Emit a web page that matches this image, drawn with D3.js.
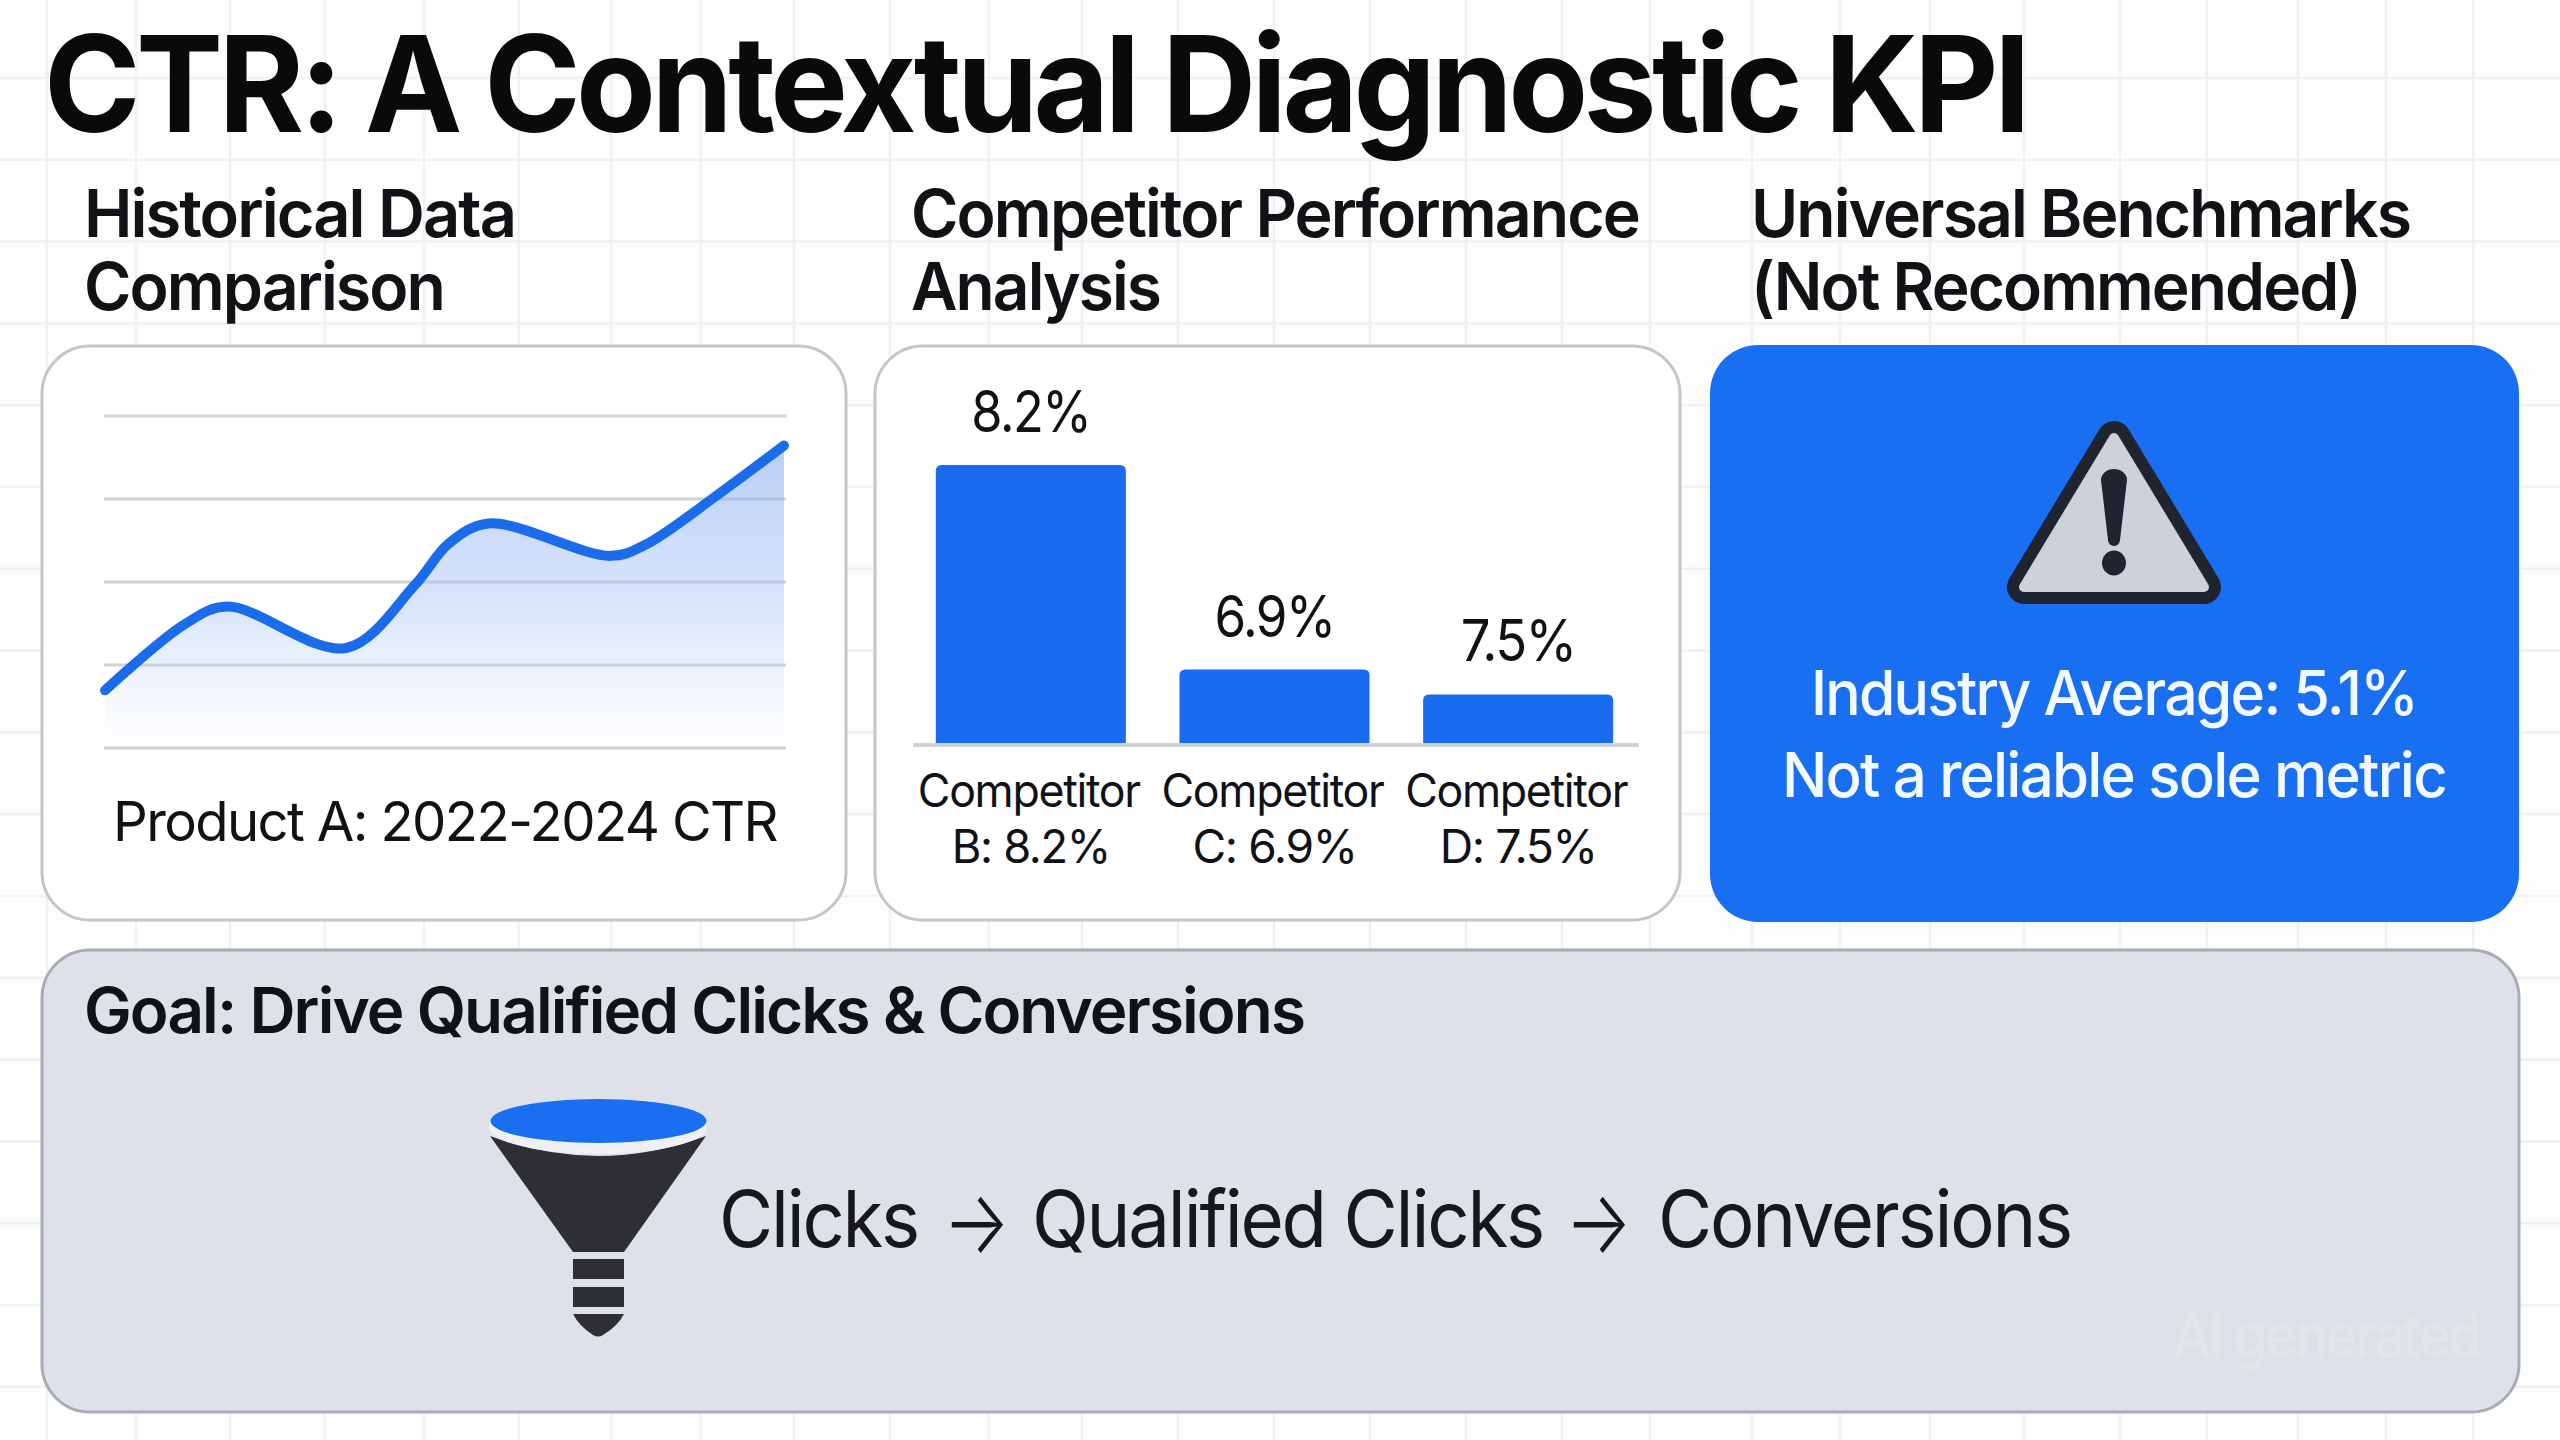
<!DOCTYPE html>
<html><head><meta charset="utf-8">
<script src="https://cdn.jsdelivr.net/npm/d3@7"></script>
<style>html,body{margin:0;padding:0;background:#fff}svg{display:block}text{font-family:Inter,"Noto Sans",sans-serif}</style>
</head><body><svg id="c" width="2560" height="1440"></svg>
<script>
// Data
const titleText = "CTR: A Contextual Diagnostic KPI";
const lineX = [2022,2022.236,2022.36,2022.71,2022.913,2023.013,2023.13,2023.49,2023.59,2023.806,2024];
const lineY = [0.69,1.49,1.70,1.20,1.96,2.46,2.70,2.31,2.44,3.05,3.64];
const gridTicks = [0,1,2,3,4];
const barCategories = ["B","C","D"];
const barLabels = ["8.2%","6.9%","7.5%"];
const barHeights = [8.2,2.2,1.47]; // bar lengths as drawn in the picture
const catLine1 = ["Competitor","Competitor","Competitor"];
const catLine2 = ["B: 8.2%","C: 6.9%","D: 7.5%"];
const bgX = [47,136,230,325,424,519,611,701,794,890,989,1082,1178,1274,1370,1466,1562,1650,1752,1840,1930,2024,2120,2207,2298,2386,2473];
const bgY = d3.range(0,17).map(i=>78+81.8*i);

const svg = d3.select("#c");
const defs = svg.append("defs");
const g = defs.append("linearGradient").attr("id","area").attr("x1",0).attr("x2",0).attr("y1",0).attr("y2",1);
g.append("stop").attr("offset","0").attr("stop-color","#7fa6f0").attr("stop-opacity",0.55);
g.append("stop").attr("offset","0.55").attr("stop-color","#a8c3f5").attr("stop-opacity",0.42);
g.append("stop").attr("offset","1").attr("stop-color","#c9daf9").attr("stop-opacity",0.02);

function txt(parent,s,x,y,size,weight,fill,anchor,len,ls){
  const t = parent.append("text").attr("x",x).attr("y",y).attr("font-size",size)
    .attr("font-weight",weight).attr("fill",fill).attr("text-anchor",anchor||"start")
    .attr("letter-spacing",(ls===undefined?-0.03:ls)*size).text(s);
  if(len) t.attr("textLength",len).attr("lengthAdjust","spacingAndGlyphs");
  return t;
}

// background grid
svg.append("rect").attr("width",2560).attr("height",1440).attr("fill","#fdfdfe");
svg.selectAll(".bgx").data(bgX).join("line").attr("x1",d=>d).attr("x2",d=>d).attr("y1",0).attr("y2",1440).attr("stroke","#f0f1f4").attr("stroke-width",2.5);
svg.selectAll(".bgy").data(bgY).join("line").attr("y1",d=>d).attr("y2",d=>d).attr("x1",0).attr("x2",2560).attr("stroke","#f0f1f4").attr("stroke-width",2.5);

// titles
txt(svg,titleText,44,132,134,750,"#0a0a0c","start",1982,-0.035);
const INK="#111216";
txt(svg,"Historical Data",84,237,66,600,INK,"start",431);
txt(svg,"Comparison",84,310,66,600,INK,"start",360);
txt(svg,"Competitor Performance",911,237,66,600,INK,"start",728);
txt(svg,"Analysis",911,310,66,600,INK,"start",249);
txt(svg,"Universal Benchmarks",1751,237,66,600,INK,"start",659);
txt(svg,"(Not Recommended)",1751,310,66,600,INK,"start",609);

// cards
const card=(x,y,w,h,fill,stroke)=>svg.append("rect").attr("x",x).attr("y",y).attr("width",w).attr("height",h).attr("rx",48).attr("fill",fill).attr("stroke",stroke||"none").attr("stroke-width",3);
card(42,346,804,574,"#ffffff","#c3c6cb");
card(875,346,805,574,"#ffffff","#c3c6cb");
card(1710,345,809,577,"#196ff2");
card(42,950,2477,462,"#dee1e7","#a8adb5");

// line chart
const x = d3.scaleLinear().domain([2022,2024]).range([105,784]);
const y = d3.scaleLinear().domain([0,4]).range([747.6,415.6]);
const grid = d3.axisLeft(y).tickValues(gridTicks).tickSize(-682).tickFormat("");
const gg = svg.append("g").attr("transform","translate(104,0)").call(grid);
gg.select(".domain").remove();
gg.selectAll(".tick line").attr("stroke","#cfd2d7").attr("stroke-width",3);
const pts = lineX.map((d,i)=>[d,lineY[i]]);
const curve = d3.curveCatmullRom.alpha(0.5);
svg.append("path").datum(pts).attr("fill","url(#area)").attr("d",d3.area().x(d=>x(d[0])).y0(y(0)).y1(d=>y(d[1])).curve(curve));
svg.append("path").datum(pts).attr("fill","none").attr("stroke","#1a6ceb").attr("stroke-width",10).attr("stroke-linecap","round").attr("d",d3.line().x(d=>x(d[0])).y(d=>y(d[1])).curve(curve));
txt(svg,"Product A: 2022-2024 CTR",445,841,55,400,INK,"middle",664);

// bars
const bx = d3.scaleBand().domain(barCategories).range([909,1640]).paddingInner(0.22).paddingOuter(0.11);
const by = d3.scaleLinear().domain([0,8.2]).range([744.6,465]);
svg.selectAll(".bar").data(barCategories).join("path").attr("fill","#196bf0").attr("d",(c,i)=>{
  const x0=bx(c),w=bx.bandwidth(),t=by(barHeights[i]),b=by(0),r=6;
  return `M${x0},${b}V${t+r}Q${x0},${t} ${x0+r},${t}H${x0+w-r}Q${x0+w},${t} ${x0+w},${t+r}V${b}Z`;
});
svg.append("g").attr("transform","translate(0,745)").call(d3.axisBottom(bx).tickSize(0).tickFormat("")).call(a=>{
  a.select(".domain").attr("stroke","#cfd2d7").attr("stroke-width",4).attr("d","M913,0H1639");
});
barCategories.forEach((c,i)=>{
  const cx=bx(c)+bx.bandwidth()/2;
  txt(svg,barLabels[i],cx,by(barHeights[i])-33,58,400,INK,"middle",[119,120,115][i]);
  txt(svg,catLine1[i],cx-2,807,46,400,INK,"middle",222);
  txt(svg,catLine2[i],cx,863,46,400,INK,"middle",[158,164,157][i]);
});

// warning icon
const tri="M2114,438L2024,587L2204,587Z";
svg.append("path").attr("d",tri).attr("fill","#1f2430").attr("stroke","#1f2430").attr("stroke-width",34).attr("stroke-linejoin","round");
svg.append("path").attr("d",tri).attr("fill","#ccd1da").attr("stroke","#ccd1da").attr("stroke-width",10).attr("stroke-linejoin","round");
svg.append("path").attr("fill","#1f2430").attr("d","M2101,480a13,11 0 0 1 26,0L2120,540a6,6 0 0 1 -12,0Z");
svg.append("ellipse").attr("cx",2114).attr("cy",563).attr("rx",12).attr("ry",12.5).attr("fill","#1f2430");
txt(svg,"Industry Average: 5.1%",2114,715,62,450,"#f4f8ff","middle",606);
txt(svg,"Not a reliable sole metric",2114,797,62,450,"#f4f8ff","middle",664);

// bottom panel
txt(svg,"Goal: Drive Qualified Clicks & Conversions",84,1033,63,600,INK,"start",1220);
txt(svg,"AI generated",2173,1357,60,500,"#e2e5ea","start",307);
const FLOW="#17181c";
txt(svg,"Clicks",719,1247,78,400,FLOW,"start",199);
txt(svg,"→",943,1253,88,300,FLOW,"start",67,0);
txt(svg,"Qualified Clicks",1032,1247,78,400,FLOW,"start",511);
txt(svg,"→",1565,1253,88,300,FLOW,"start",67,0);
txt(svg,"Conversions",1658,1247,78,400,FLOW,"start",413);
const D="#2e2f35";
svg.append("path").attr("fill",D).attr("d","M490,1136Q598,1176 706,1136L624,1252H573Z");
svg.append("ellipse").attr("cx",598).attr("cy",1127).attr("rx",109).attr("ry",27).attr("fill","#eef0f4");
svg.append("ellipse").attr("cx",598.5).attr("cy",1121).attr("rx",108).attr("ry",22).attr("fill","#1a6ff0");
svg.append("rect").attr("x",573).attr("y",1259).attr("width",51).attr("height",20).attr("fill",D);
svg.append("rect").attr("x",573).attr("y",1287).attr("width",51).attr("height",20).attr("fill",D);
svg.append("path").attr("fill",D).attr("d","M573,1314H624Q618,1326 603,1335Q598,1338 593,1335Q579,1326 573,1314Z");
</script></body></html>
